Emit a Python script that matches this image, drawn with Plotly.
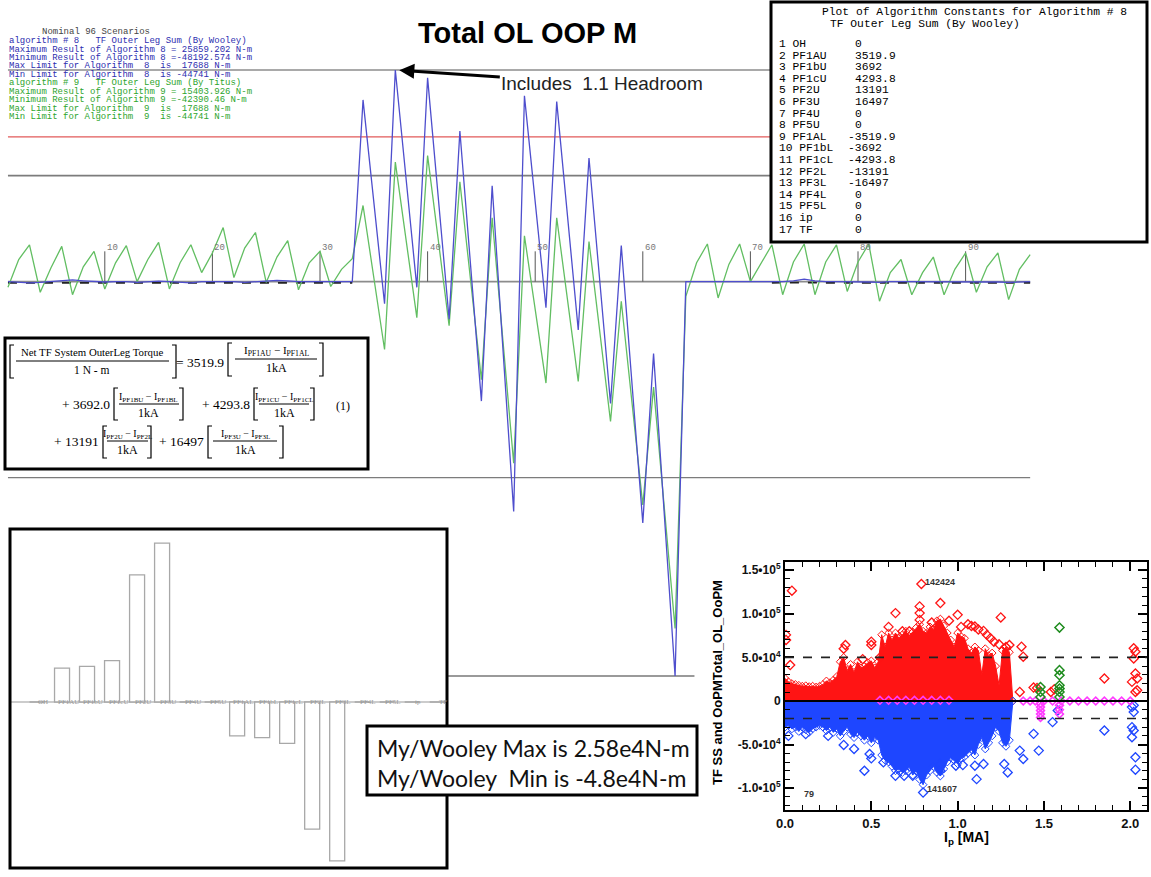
import plotly.graph_objects as go

W, H = 1151, 877

# ---------------- data ----------------
scenario = list(range(1, 97))

alg8_wooley = [
    0, -100, -150, -100, 0, 100, 200, 100, 0, -50, 0, 0, -100, 0, 50, 0, -100,
    -150, 0, 0, 0, 0, -100, 0, 50, 150, 100, 0, 0, 0, 0, -50, 0,
    22200, 9800, -2700, 25859.202, 12600, -700, 24900, 10100, -4600, 18400, 1900,
    -14600, 11700, -8200, -28100, 22700, 9800, -3200, 22000, 8100, -5900,
    15100, 100, -14900, 4400, -12600, -29500, -8800, -28400, -48192.574, 0,
    0, 0, 0, 0, 0, 0, 0, -50, 0, 100, 300, 100, 0, 0, 0, 0, -50, -100, 0, 0,
    0, 0, 0, 0, 0, 0, 0, 0, -50, -100, -50, 0]

alg9_titus = [
    -700, 2700, 4500, -1300, 1700, 4300, -1600, 1800, 3700, -900, 2300, 4400, 0,
    2700, 4800, -900, 2300, 4500, 1100, 3500, 6600, 500, 4100, 6000, -100, 3000,
    5000, -1000, 2300, 3700, -600, 1500, 2800,
    9300, 500, -8300, 14600, 5100, -4400, 15403.926, 5100, -5400, 12200, 100,
    -12000, 7800, -7200, -22200, 5600, -3400, -12400, 7800, -2200, -12200, 4900,
    -6100, -17100, -2400, -14900, -27300, -12900, -27300, -42390.46, -1800,
    2300, 4600, -2000, 2100, 4600, 0, 2300, 4500, -1600, 2400, 4600, -1600, 2400,
    4500, -1200, 2400, 4600, -2400, 1100, 2700, -1600, 1100, 3000, -1600, 1500,
    3500, -1300, 1800, 3500, -2200, 1500, 3300]

alg_other = [
    -150, -150, -120, -150, -150, -100, -150, -150, -120, -150, -150, -150, -120,
    -150, -100, -150, -150, -120, -150, -150, -150, -120, -150, -150, -100, -150,
    -150, -120, -150, -150, -150, -120, -150,
    None, None, None, None, None, None, None, None, None, None, None, None, None,
    None, None, None, None, None, None, None, None, None, None, None, None, None,
    None, None, None, None, None,
    None, None, None, None, None, None, None, -150, -120, -150, -150, -120, -150,
    -150, -150, -120, -150, -150, -120, -150, -150, -150, -120, -150, -150, -120,
    -150, -150, -150, -120, -150, -150]

alg8_result_max = 25859.202
alg8_result_min = -48192.574
alg9_result_max = 15403.926
alg9_result_min = -42390.46
limit_max = 17688
limit_min = -44741
ref_upper = 12950
ref_lower = -23950
scenario_ticks = [10, 20, 30, 40, 50, 60, 70, 80, 90]
tick_height = 3700

coil_names = ["OH", "PF1AU", "PF1bU", "PF1cU", "PF2U", "PF3U", "PF4U", "PF5U",
              "PF1AL", "PF1bL", "PF1cL", "PF2L", "PF3L", "PF4L", "PF5L", "ip", "TF"]
coil_constants = [0, 3519.9, 3692, 4293.8, 13191, 16497, 0, 0,
                  -3519.9, -3692, -4293.8, -13191, -16497, 0, 0, 0, 0]

# scatter (Ip vs OoPM)
red_env_x = [0.00, 0.02, 0.04, 0.06, 0.08, 0.10, 0.12, 0.14, 0.16, 0.18, 0.20, 0.22,
             0.24, 0.26, 0.28, 0.30, 0.32, 0.34, 0.36, 0.38, 0.40, 0.42, 0.44, 0.46,
             0.48, 0.50, 0.52, 0.54, 0.56, 0.58, 0.60, 0.62, 0.64, 0.66, 0.68, 0.70,
             0.72, 0.74, 0.76, 0.78, 0.80, 0.82, 0.84, 0.86, 0.88, 0.90, 0.92, 0.94,
             0.96, 0.98, 1.00, 1.02, 1.04, 1.06, 1.08, 1.10, 1.12, 1.14, 1.16, 1.18,
             1.20, 1.22, 1.24, 1.26, 1.28, 1.30, 1.32]
red_env_top = [26000, 22000, 20000, 19000, 18000, 17000, 17500, 16500, 17000, 16000,
               17000, 19000, 23000, 21000, 24000, 28000, 45000, 50000, 35000, 42000,
               33000, 45000, 38000, 40000, 44000, 46000, 38000, 45000, 76000, 62000,
               78000, 70000, 78000, 72000, 76000, 80000, 74000, 79000, 84000, 88000,
               80000, 78000, 85000, 82000, 92000, 94000, 86000, 78000, 70000, 62000,
               78000, 74000, 72000, 60000, 55000, 62000, 58000, 30000, 60000, 52000,
               55000, 40000, 18000, 58000, 62000, 56000, 0]
blue_env_bottom = [-30000, -28000, -32000, -30000, -35000, -30000, -33000, -36000,
                   -32000, -30000, -28000, -30000, -34000, -30000, -36000, -32000,
                   -40000, -35000, -30000, -38000, -42000, -36000, -40000, -45000,
                   -40000, -48000, -42000, -45000, -62000, -68000, -70000, -75000,
                   -80000, -78000, -82000, -80000, -76000, -85000, -80000, -90000,
                   -96000, -85000, -80000, -75000, -82000, -86000, -78000, -70000,
                   -65000, -68000, -72000, -66000, -64000, -60000, -56000, -62000,
                   -50000, -42000, -55000, -48000, -40000, -30000, -35000, -48000,
                   -52000, -45000, 0]
red_pts_x = [0.006, 0.006, 0.04, 0.03, 0.35, 0.34, 0.50, 0.50, 0.64, 0.78, 0.78, 0.78,
             0.79, 0.90, 1.00, 1.06, 1.10, 1.15, 1.17, 1.21, 1.25, 1.30, 1.37, 1.38,
             1.36, 1.44, 1.46, 1.54, 1.56, 1.85, 2.02, 2.03, 2.02, 2.03, 2.04, 2.01,
             2.03, 2.04, 0.45, 0.55, 0.60, 0.68, 0.72, 0.85, 0.95, 1.02, 1.08, 1.12,
             1.19, 1.24, 1.28]
red_pts_y = [70000, 75800, 126500, 41200, 64200, 60000, 68000, 64200, 100800, 108500,
             100800, 93000, 134200, 112300, 98800, 88000, 85400, 80400, 75800, 68000,
             95800, 64200, 62300, 50800, 10400, 15400, 15000, 10400, 13500, 25800,
             60400, 56500, 48800, 31500, 25800, 21900, 10400, 12300, 48000, 50000,
             85000, 80000, 80000, 90000, 92000, 85000, 86000, 82000, 72000, 65000, 62000]
blue_pts_x = [0.34, 0.40, 0.46, 0.49, 0.50, 0.57, 0.64, 0.69, 0.74, 0.80, 0.90, 0.90,
              0.99, 1.03, 1.10, 1.11, 1.15, 1.27, 1.29, 1.36, 1.38, 1.44, 1.47, 1.55,
              1.58, 1.85, 2.02, 2.02, 2.01, 2.02, 2.01, 2.03, 2.03, 2.01, 0.02, 0.12, 0.25]
blue_pts_y = [-50400, -55000, -80000, -60800, -65800, -70400, -85800, -85800, -85800,
              -105000, -80000, -72300, -74200, -73500, -74200, -89600, -72300, -72300,
              -81900, -56900, -66500, -37700, -56900, -24200, -10800, -33800, -5000,
              -12700, -30000, -33800, -41500, -64600, -78800, -7000, -40000, -38000, -40000]
green_pts_x = [1.48, 1.48, 1.48, 1.59, 1.59, 1.59, 1.59, 1.59, 1.59, 1.59]
green_pts_y = [16000, 10400, 4600, 84200, 35400, 29600, 18000, 14200, 10400, 4600]
magenta_pts_x = [0.55, 0.60, 0.65, 0.70, 0.75, 0.80, 0.85, 0.90, 0.95, 1.38, 1.42, 1.45,
                 1.50, 1.55, 1.60, 1.65, 1.70, 1.75, 1.80, 1.85, 1.90, 1.95, 2.00,
                 1.48, 1.48, 1.48, 1.48, 1.48, 1.59, 1.59, 1.59]
magenta_pts_y = [800, 800, 800, 800, 800, 800, 800, 800, 800, 0, 0, 0, 0, 0, 0,
                 0, 0, 0, 0, 0, 0, 0, 0, -3000, -7000, -11000, -15000, -19000,
                 -5000, -10000, -15000]
scatter_dashed_levels = [50000, -20000]
peak_labels = [("142424", 0.80, 137000), ("141607", 0.81, -101000), ("79", 0.10, -107000)]

assert len(alg8_wooley) == 96 and len(alg9_titus) == 96 and len(alg_other) == 96
assert len(red_env_x) == len(red_env_top) == len(blue_env_bottom)

# ---------------- styles ----------------
BLUE = 'rgb(78,78,205)'
GREEN = 'rgb(98,190,98)'
TXT_BLUE = 'rgb(45,45,175)'
TXT_GREEN = 'rgb(45,165,45)'
MONO = 'Liberation Mono, DejaVu Sans Mono, monospace'
SANS = 'Liberation Sans, Arial, sans-serif'
SERIF = 'Liberation Serif, Times New Roman, serif'
RED = 'rgb(255,20,20)'
SBLUE = 'rgb(30,70,255)'
NB = '\u00a0'


def P(x, y):
    return x / W, 1 - y / H


def nb(s):
    return s.replace(' ', NB)


annotations = []
shapes = []


def add_text(x, y, text, size, color='black', family=SANS, xanchor='left',
             yanchor='middle', **kw):
    xp, yp = P(x, y)
    annotations.append(dict(x=xp, y=yp, xref='paper', yref='paper', text=text,
                            showarrow=False, xanchor=xanchor, yanchor=yanchor,
                            font=dict(size=size, color=color, family=family), **kw))


def rect_px(x0, y0, x1, y1, lw=3, fill=None, layer='above'):
    shapes.append(dict(type='rect', xref='paper', yref='paper',
                       x0=x0 / W, x1=x1 / W, y0=1 - y1 / H, y1=1 - y0 / H,
                       line=dict(color='black', width=lw),
                       fillcolor=fill if fill else 'rgba(0,0,0,0)', layer=layer))


def line_px(x0, y0, x1, y1, lw=1, color='black'):
    shapes.append(dict(type='line', xref='paper', yref='paper',
                       x0=x0 / W, x1=x1 / W, y0=1 - y0 / H, y1=1 - y1 / H,
                       line=dict(color=color, width=lw), layer='above'))


def bracket(x, top, bot, side):
    w = 4 if side == 'L' else -4
    path = (f"M {(x + w) / W},{1 - top / H} L {x / W},{1 - top / H} "
            f"L {x / W},{1 - bot / H} L {(x + w) / W},{1 - bot / H}")
    shapes.append(dict(type='path', xref='paper', yref='paper', path=path,
                       line=dict(color='black', width=1.2), layer='above'))


fig = go.Figure()

# ---------------- main line chart ----------------
limit_values = [alg8_result_max, limit_max, ref_upper, 0, ref_lower]
limit_colors = ['#8c8c8c', '#e25a5a', '#7c7c7c', '#8c8c8c', '#7c7c7c']
limit_widths = [1.6, 1.2, 1.6, 1.6, 1.4]
for v, c, w in zip(limit_values, limit_colors, limit_widths):
    shapes.append(dict(type='line', xref='x', yref='y', x0=scenario[0], x1=scenario[-1],
                       y0=v, y1=v, line=dict(color=c, width=w), layer='below'))
shapes.append(dict(type='line', xref='x', yref='y', x0=41.9, x1=64.8,
                   y0=alg8_result_min, y1=alg8_result_min,
                   line=dict(color='#9a9a9a', width=2), layer='below'))
for t in scenario_ticks:
    shapes.append(dict(type='line', xref='x', yref='y', x0=t, x1=t, y0=0, y1=tick_height,
                       line=dict(color='#555', width=1), layer='below'))
    annotations.append(dict(x=t, y=tick_height, xref='x', yref='y', text=str(t),
                            showarrow=False, xanchor='left', yanchor='middle', xshift=0,
                            yshift=3, font=dict(size=9, color='#777', family=MONO)))

fig.add_trace(go.Scatter(x=scenario, y=alg_other, mode='lines', xaxis='x', yaxis='y',
                         line=dict(color='#222', width=1.6, dash='dash'),
                         hoverinfo='skip', showlegend=False))
fig.add_trace(go.Scatter(x=scenario, y=alg9_titus, mode='lines', xaxis='x', yaxis='y',
                         line=dict(color=GREEN, width=1.3), showlegend=False))
fig.add_trace(go.Scatter(x=scenario, y=alg8_wooley, mode='lines', xaxis='x', yaxis='y',
                         line=dict(color=BLUE, width=1.3), showlegend=False))

add_text(527, 33, '<b>Total OL OOP M</b>', 29, color='black', xanchor='center')

annotations.append(dict(x=37, y=alg8_result_max, xref='x', yref='y',
                        text=nb('Includes  1.1 Headroom'), showarrow=True,
                        ax=207, ay=14, arrowhead=2, arrowsize=1, arrowwidth=3,
                        arrowcolor='black', standoff=4,
                        font=dict(size=19, color='#222', family=SANS)))

# info text block (top-left)
info_lines = [
    (40, "Nominal 96 Scenarios", '#444'),
    (7, "algorithm # 8   TF Outer Leg Sum (By Wooley)", TXT_BLUE),
    (7, f"Maximum Result of Algorithm 8 = {alg8_result_max} N-m", TXT_BLUE),
    (7, f"Minimum Result of Algorithm 8 ={alg8_result_min} N-m", TXT_BLUE),
    (7, f"Max Limit for Algorithm  8  is  {limit_max} N-m", TXT_BLUE),
    (7, f"Min Limit for Algorithm  8  is {limit_min} N-m", TXT_BLUE),
    (7, "algorithm # 9   TF Outer Leg Sum (By Titus)", TXT_GREEN),
    (7, f"Maximum Result of Algorithm 9 = {alg9_result_max} N-m", TXT_GREEN),
    (7, f"Minimum Result of Algorithm 9 ={alg9_result_min} N-m", TXT_GREEN),
    (7, f"Max Limit for Algorithm  9  is  {limit_max} N-m", TXT_GREEN),
    (7, f"Min Limit for Algorithm  9  is {limit_min} N-m", TXT_GREEN),
]
info_y = [32, 41, 50, 58, 66, 75, 83, 92, 100, 109, 117]
for (xx, s, c), yy in zip(info_lines, info_y):
    add_text(xx, yy, nb(s), 9, color=c, family=MONO)

# ---------------- constants table (top-right) ----------------
rect_px(771, 2, 1147, 242, lw=3, fill='white')
add_text(820, 12, "Plot of Algorithm Constants for Algorithm # 8", 11.3, family=MONO)
add_text(828, 24, "TF Outer Leg Sum (By Wooley)", 11.3, family=MONO)
for k, (name, val) in enumerate(zip(coil_names, coil_constants)):
    yy = 44 + 11.6 * k
    add_text(777, yy, f"{k + 1} {name}", 11.3, family=MONO)
    add_text(846 if val < 0 else 853, yy, f"{val:g}", 11.3, family=MONO)

# ---------------- equation box ----------------
rect_px(5, 338, 368, 469, lw=3, fill='white')
c = coil_constants
EQ = 13.5
# row 1
bracket(10, 345, 378, 'L')
add_text(92, 352, 'Net TF System OuterLeg Torque', 10.8, family=SERIF, xanchor='center')
line_px(16, 361, 169, 361)
add_text(92, 370, '1 N - m', 11.5, family=SERIF, xanchor='center')
bracket(176, 345, 378, 'R')
add_text(226, 362, nb(f'= {c[1]:.1f}'), EQ, family=SERIF, xanchor='right')
bracket(228, 343, 376, 'L')
add_text(276, 351, 'I<sub>PF1AU</sub> − I<sub>PF1AL</sub>', 11, family=SERIF, xanchor='center')
line_px(235, 359, 317, 359)
add_text(276, 368, '1kA', 12, family=SERIF, xanchor='center')
bracket(323, 343, 376, 'R')
# row 2
add_text(112, 405, nb(f'+ {c[2]:.1f}'), EQ, family=SERIF, xanchor='right')
bracket(114, 388, 420, 'L')
add_text(149, 397, 'I<sub>PF1BU</sub> − I<sub>PF1BL</sub>', 10, family=SERIF, xanchor='center')
line_px(119, 404, 179, 404)
add_text(149, 413, '1kA', 12, family=SERIF, xanchor='center')
bracket(183, 388, 420, 'R')
add_text(252, 405, nb(f'+ {c[3]:.1f}'), EQ, family=SERIF, xanchor='right')
bracket(254, 388, 420, 'L')
add_text(284, 397, 'I<sub>PF1CU</sub> − I<sub>PF1CL</sub>', 10, family=SERIF, xanchor='center')
line_px(259, 404, 309, 404)
add_text(284, 413, '1kA', 12, family=SERIF, xanchor='center')
bracket(314, 388, 420, 'R')
add_text(343, 406, '(1)', 12, family=SERIF, xanchor='center')
# row 3
add_text(101, 442, nb(f'+ {c[4]:.0f}'), EQ, family=SERIF, xanchor='right')
bracket(103, 426, 458, 'L')
add_text(127, 435, 'I<sub>PF2U</sub> − I<sub>PF2L</sub>', 10, family=SERIF, xanchor='center')
line_px(107, 441, 148, 441)
add_text(127, 450, '1kA', 12, family=SERIF, xanchor='center')
bracket(151, 426, 458, 'R')
add_text(206, 442, nb(f'+ {c[5]:.0f}'), EQ, family=SERIF, xanchor='right')
bracket(208, 426, 458, 'L')
add_text(245, 435, 'I<sub>PF3U</sub> − I<sub>PF3L</sub>', 10, family=SERIF, xanchor='center')
line_px(213, 441, 277, 441)
add_text(245, 450, '1kA', 12, family=SERIF, xanchor='center')
bracket(283, 426, 458, 'R')

# ---------------- bar chart (bottom-left) ----------------
fig.add_trace(go.Bar(x=coil_names, y=coil_constants, xaxis='x2', yaxis='y2', width=0.6,
                     marker=dict(color='white', line=dict(color='#a8a8a8', width=1.3)),
                     showlegend=False))
shapes.append(dict(type='line', xref='x2 domain', yref='y2', x0=0, x1=1, y0=0, y1=0,
                   line=dict(color='#999', width=1.2), layer='below'))
for name in coil_names:
    annotations.append(dict(x=name, y=0, xref='x2', yref='y2', text=name, showarrow=False,
                            xshift=6, xanchor='center', yanchor='middle',
                            font=dict(size=7, color='#999', family=SERIF)))
rect_px(10, 529, 447, 868, lw=3)

# ---------------- My/Wooley box ----------------
rect_px(367, 726, 697, 795, lw=3, fill='white')
add_text(375, 748, nb('My/Wooley Max is 2.58e4N-m'), 23, color='#111', family='Lato, Carlito, sans-serif')
add_text(375, 778, nb('My/Wooley  Min is -4.8e4N-m'), 23, color='#111', family='Lato, Carlito, sans-serif')

# ---------------- scatter (bottom-right) ----------------
fig.add_trace(go.Scatter(x=red_env_x, y=red_env_top, mode='lines+markers', fill='tozeroy',
                         fillcolor=RED, line=dict(color=RED, width=1),
                         marker=dict(symbol='diamond-open', size=6, color=RED),
                         xaxis='x3', yaxis='y3', showlegend=False))
fig.add_trace(go.Scatter(x=red_env_x, y=blue_env_bottom, mode='lines+markers', fill='tozeroy',
                         fillcolor=SBLUE, line=dict(color=SBLUE, width=1),
                         marker=dict(symbol='diamond-open', size=6, color=SBLUE),
                         xaxis='x3', yaxis='y3', showlegend=False))
fig.add_trace(go.Scatter(x=red_pts_x, y=red_pts_y, mode='markers',
                         marker=dict(symbol='diamond-open', size=7, color=RED, line=dict(width=1.3)),
                         xaxis='x3', yaxis='y3', showlegend=False))
fig.add_trace(go.Scatter(x=blue_pts_x, y=blue_pts_y, mode='markers',
                         marker=dict(symbol='diamond-open', size=7, color=SBLUE, line=dict(width=1.3)),
                         xaxis='x3', yaxis='y3', showlegend=False))
fig.add_trace(go.Scatter(x=magenta_pts_x, y=magenta_pts_y, mode='markers',
                         marker=dict(symbol='diamond-open', size=6, color='rgb(255,60,255)', line=dict(width=1.6)),
                         xaxis='x3', yaxis='y3', showlegend=False))
fig.add_trace(go.Scatter(x=green_pts_x, y=green_pts_y, mode='markers',
                         marker=dict(symbol='diamond-open', size=7, color='rgb(30,140,30)', line=dict(width=1.5)),
                         xaxis='x3', yaxis='y3', showlegend=False))
for lvl in scatter_dashed_levels:
    shapes.append(dict(type='line', xref='x3 domain', yref='y3', x0=0, x1=1, y0=lvl, y1=lvl,
                       line=dict(color='#222', width=1.6, dash='dash'), layer='above'))
shapes.append(dict(type='line', xref='x3 domain', yref='y3', x0=0, x1=1, y0=0, y1=0,
                   line=dict(color='black', width=2), layer='above'))
for txt, lx, ly in peak_labels:
    annotations.append(dict(x=lx, y=ly, xref='x3', yref='y3', text=f'<b>{txt}</b>',
                            showarrow=False, xanchor='left', yanchor='middle',
                            font=dict(size=9, color='#333', family=SANS)))
add_text(966, 838, '<b>I<sub>p</sub> [MA]</b>', 14, xanchor='center')
add_text(717, 683, '<b>TF SS and OoPMTotal_OL_OoPM</b>', 13, xanchor='center',
         textangle=-90)

y3_vals = [-100000, -50000, 0, 50000, 100000, 150000]
y3_text = ['<b>-1.0•10<sup>5</sup></b>', '<b>-5.0•10<sup>4</sup></b>', '<b>0</b>',
           '<b>5.0•10<sup>4</sup></b>', '<b>1.0•10<sup>5</sup></b>', '<b>1.5•10<sup>5</sup></b>']
x3_vals = [0, 0.5, 1.0, 1.5, 2.0]
x3_text = ['<b>0.0</b>', '<b>0.5</b>', '<b>1.0</b>', '<b>1.5</b>', '<b>2.0</b>']

fig.update_layout(
    width=W, height=H, autosize=False,
    margin=dict(l=0, r=0, t=0, b=0, pad=0, autoexpand=False),
    paper_bgcolor='white', plot_bgcolor='rgba(0,0,0,0)',
    showlegend=False,
    xaxis=dict(domain=[0, 1], range=[0.26, 107.23], visible=False, anchor='y', automargin=False),
    yaxis=dict(domain=[0, 1], range=[-72758, 34412], visible=False, anchor='x', automargin=False),
    xaxis2=dict(domain=[10 / W, 447 / W], range=[-1.08, 16.39], visible=False, anchor='y2',
                automargin=False),
    yaxis2=dict(domain=[1 - 868 / H, 1 - 529 / H], range=[-17238, 17965], visible=False,
                anchor='x2', automargin=False),
    xaxis3=dict(domain=[785 / W, 1147 / W], range=[0, 2.097], anchor='y3', automargin=False,
                showline=True, linewidth=2, linecolor='black', mirror='allticks',
                ticks='inside', ticklen=9, tickwidth=1.5, tickcolor='black',
                tickmode='array', tickvals=x3_vals, ticktext=x3_text,
                tickfont=dict(size=13, family=SANS, color='#111'),
                minor=dict(ticks='inside', ticklen=5, tickwidth=1, tickcolor='black',
                           tickmode='linear', tick0=0, dtick=0.1, showgrid=False),
                showgrid=False, zeroline=False),
    yaxis3=dict(domain=[1 - 810 / H, 1 - 562 / H], range=[-125000, 159400], anchor='x3',
                automargin=False,
                showline=True, linewidth=2, linecolor='black', mirror='allticks',
                ticks='inside', ticklen=9, tickwidth=1.5, tickcolor='black',
                tickmode='array', tickvals=y3_vals, ticktext=y3_text,
                tickfont=dict(size=12, family=SANS, color='#111'),
                minor=dict(ticks='inside', ticklen=5, tickwidth=1, tickcolor='black',
                           tickmode='linear', tick0=0, dtick=10000, showgrid=False),
                showgrid=False, zeroline=False),
    shapes=shapes,
    annotations=annotations,
)

fig.write_html(
    "out.html",
    config={'responsive': False},
    post_script=("document.body.style.margin='0px';document.body.style.padding='0px';"
                 "var d=document.getElementById('{plot_id}');"
                 "d.style.position='absolute';d.style.left='0px';d.style.top='0px';"),
)
